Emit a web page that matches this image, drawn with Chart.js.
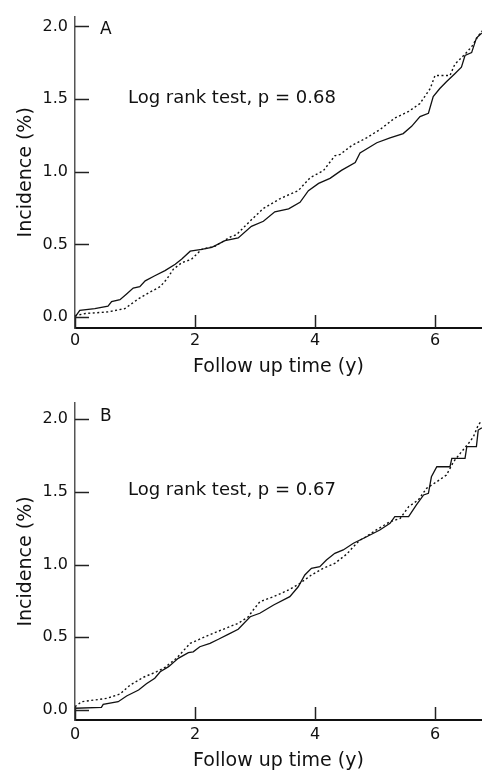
<!DOCTYPE html>
<html>
<head>
<meta charset="utf-8">
<script src="https://cdn.jsdelivr.net/npm/chart.js@4/dist/chart.umd.min.js"></script>
<style>
  body { margin: 0; background: #fff; }
  .panel { position: absolute; left: 0; width: 482px; height: 386px; }
</style>
</head>
<body>
<div class="panel" style="top:0"><canvas id="chartA" width="482" height="386"></canvas></div>
<div class="panel" style="top:386px"><canvas id="chartB" width="482" height="386"></canvas></div>
<script>
// tick values
var xTicks = [0, 2, 4, 6];
var yTicks = [0, 0.5, 1.0, 1.5, 2.0];

// panel A - solid line
var aSolidX = [0, 0.08, 0.33, 0.55, 0.61, 0.75, 0.86, 0.97, 1.08, 1.17, 1.33, 1.5, 1.67, 1.78, 1.92, 2.11, 2.28, 2.5, 2.72, 2.94, 3.14, 3.33, 3.56, 3.75, 3.89, 4.06, 4.25, 4.44, 4.67, 4.75, 5.03, 5.25, 5.47, 5.61, 5.75, 5.89, 5.97, 6.08, 6.19, 6.33, 6.44, 6.5, 6.61, 6.69, 6.78];
var aSolidY = [0, 0.047, 0.059, 0.075, 0.107, 0.12, 0.16, 0.2, 0.21, 0.25, 0.285, 0.32, 0.364, 0.4, 0.454, 0.466, 0.48, 0.527, 0.545, 0.625, 0.66, 0.725, 0.745, 0.79, 0.87, 0.92, 0.955, 1.01, 1.064, 1.13, 1.2, 1.234, 1.263, 1.313, 1.38, 1.403, 1.517, 1.573, 1.62, 1.675, 1.72, 1.8, 1.82, 1.92, 1.955];
// panel A - dotted line
var aDotX = [0, 0.17, 0.55, 0.83, 1.06, 1.25, 1.42, 1.53, 1.64, 1.78, 1.94, 2.11, 2.33, 2.61, 2.69, 2.94, 3.14, 3.42, 3.72, 3.92, 4.14, 4.33, 4.42, 4.61, 4.75, 4.86, 5.08, 5.33, 5.56, 5.75, 5.92, 6.0, 6.25, 6.33, 6.5, 6.61, 6.72, 6.78];
var aDotY = [0.01, 0.025, 0.036, 0.059, 0.127, 0.172, 0.21, 0.262, 0.33, 0.375, 0.398, 0.466, 0.488, 0.556, 0.567, 0.67, 0.748, 0.816, 0.87, 0.96, 1.008, 1.11, 1.12, 1.18, 1.21, 1.234, 1.29, 1.37, 1.415, 1.47, 1.573, 1.663, 1.663, 1.74, 1.81, 1.86, 1.934, 1.97];

// panel B - solid line
var bSolidX = [0, 0.44, 0.47, 0.72, 0.86, 1.06, 1.19, 1.33, 1.42, 1.56, 1.72, 1.89, 1.97, 2.08, 2.25, 2.39, 2.56, 2.72, 2.92, 3.08, 3.31, 3.58, 3.72, 3.83, 3.94, 4.08, 4.19, 4.33, 4.47, 4.64, 4.86, 5.08, 5.25, 5.33, 5.56, 5.69, 5.81, 5.89, 5.94, 6.03, 6.25, 6.28, 6.5, 6.53, 6.69, 6.72, 6.78];
var bSolidY = [0.012, 0.018, 0.039, 0.057, 0.096, 0.137, 0.18, 0.218, 0.263, 0.298, 0.355, 0.394, 0.4, 0.435, 0.458, 0.486, 0.522, 0.555, 0.641, 0.665, 0.722, 0.779, 0.847, 0.928, 0.974, 0.985, 1.031, 1.077, 1.1, 1.146, 1.191, 1.237, 1.283, 1.329, 1.329, 1.409, 1.478, 1.489, 1.603, 1.672, 1.672, 1.73, 1.73, 1.81, 1.81, 1.924, 1.94];
// panel B - dotted line
var bDotX = [0, 0.11, 0.53, 0.75, 0.92, 1.14, 1.36, 1.5, 1.69, 1.92, 2.17, 2.44, 2.72, 2.89, 2.96, 3.08, 3.31, 3.56, 3.75, 3.94, 4.14, 4.33, 4.53, 4.64, 4.75, 4.81, 5.03, 5.25, 5.42, 5.56, 5.72, 5.86, 6.03, 6.19, 6.31, 6.42, 6.56, 6.64, 6.72, 6.78];
var bDotY = [0.023, 0.057, 0.08, 0.11, 0.172, 0.225, 0.263, 0.293, 0.355, 0.458, 0.504, 0.55, 0.596, 0.641, 0.682, 0.744, 0.779, 0.825, 0.871, 0.928, 0.974, 1.008, 1.072, 1.122, 1.168, 1.18, 1.24, 1.294, 1.317, 1.397, 1.443, 1.524, 1.569, 1.615, 1.707, 1.764, 1.833, 1.878, 1.958, 1.99];

function puntos(xs, ys) {
    var res = [];
    for (var i = 0; i < xs.length; i++) {
        res.push({ x: xs[i], y: ys[i] });
    }
    return res;
}

var fuente = "'DejaVu Sans', sans-serif";

// inward tick marks, panel letter and the log rank note
var marcas = {
    id: 'marcas',
    afterDraw: function (chart) {
        var ctx = chart.ctx;
        var area = chart.chartArea;
        var sx = chart.scales.x;
        var sy = chart.scales.y;
        var extra = chart.options.plugins.marcas;
        ctx.save();
        ctx.strokeStyle = '#222';
        ctx.lineWidth = 1.5;
        for (var i = 0; i < yTicks.length; i++) {
            var py = Math.round(sy.getPixelForValue(yTicks[i])) + 0.5;
            ctx.beginPath();
            ctx.moveTo(area.left, py);
            ctx.lineTo(area.left + 14, py);
            ctx.stroke();
        }
        for (var j = 0; j < xTicks.length; j++) {
            var px = Math.round(sx.getPixelForValue(xTicks[j])) + 0.5;
            ctx.beginPath();
            ctx.moveTo(px, area.bottom);
            ctx.lineTo(px, area.bottom - 13);
            ctx.stroke();
        }
        ctx.fillStyle = '#111';
        ctx.textBaseline = 'middle';
        ctx.textAlign = 'left';
        ctx.font = '17px ' + fuente;
        ctx.fillText(extra.letra, area.left + 25, sy.getPixelForValue(2.0) + extra.dy);
        ctx.font = '18px ' + fuente;
        ctx.fillText(extra.nota, 128, sy.getPixelForValue(1.5) - 1);
        ctx.restore();
    }
};

function crear_grafico(id, solidoX, solidoY, puntoX, puntoY, opc) {
    var datos = {
        type: 'line',
        data: {
            datasets: [{
                data: puntos(solidoX, solidoY),
                borderColor: '#111',
                borderWidth: 1.3,
                pointRadius: 0,
                tension: 0,
                fill: false
            }, {
                data: puntos(puntoX, puntoY),
                borderColor: '#111',
                borderWidth: 1.4,
                borderDash: [2, 2.5],
                pointRadius: 0,
                tension: 0,
                fill: false
            }]
        },
        options: {
            responsive: false,
            animation: false,
            layout: { padding: { top: opc.top, right: 0, left: 0, bottom: 0 } },
            plugins: {
                legend: { display: false },
                tooltip: { enabled: false },
                marcas: { letra: opc.letra, nota: opc.nota, dy: opc.dy }
            },
            scales: {
                x: {
                    type: 'linear',
                    min: 0,
                    max: 6.783,
                    grid: { display: false, drawTicks: false },
                    border: { display: true, color: '#111', width: 2 },
                    afterBuildTicks: function (scale) {
                        scale.ticks = xTicks.map(function (v) { return { value: v }; });
                    },
                    afterFit: function (scale) { scale.height = opc.xAlto; },
                    ticks: {
                        padding: opc.xPad,
                        color: '#111',
                        font: { family: fuente, size: 16 },
                        callback: function (v) { return String(v); }
                    },
                    title: {
                        display: true,
                        text: 'Follow up time (y)',
                        color: '#111',
                        font: { family: fuente, size: 19 },
                        padding: { top: 0, bottom: opc.tituloPad }
                    }
                },
                y: {
                    min: opc.yMin,
                    max: opc.yMax,
                    grid: { display: false, drawTicks: false },
                    border: { display: true, color: '#555', width: 1.5 },
                    afterBuildTicks: function (scale) {
                        scale.ticks = yTicks.map(function (v) { return { value: v }; });
                    },
                    afterFit: function (scale) { scale.width = 75; },
                    ticks: {
                        padding: 7,
                        color: '#111',
                        font: { family: fuente, size: 16 },
                        callback: function (v) { return Number(v).toFixed(1); }
                    },
                    title: {
                        display: true,
                        text: 'Incidence (%)',
                        color: '#111',
                        font: { family: fuente, size: 19 },
                        padding: { top: 15, bottom: 0 }
                    }
                }
            }
        },
        plugins: [marcas]
    };
    var canvas = document.getElementById(id).getContext('2d');
    return new Chart(canvas, datos);
}

window.graficoA = crear_grafico('chartA', aSolidX, aSolidY, aDotX, aDotY, {
    top: 12, xAlto: 58, xPad: 3, tituloPad: 8, yMin: -0.0746, yMax: 2.0678,
    letra: 'A', nota: 'Log rank test, p = 0.68', dy: 3
});
window.graficoB = crear_grafico('chartB', bSolidX, bSolidY, bDotX, bDotY, {
    top: 17, xAlto: 52, xPad: 5, tituloPad: 0, yMin: -0.0687, yMax: 2.11,
    letra: 'B', nota: 'Log rank test, p = 0.67', dy: -2
});
</script>
</body>
</html>
